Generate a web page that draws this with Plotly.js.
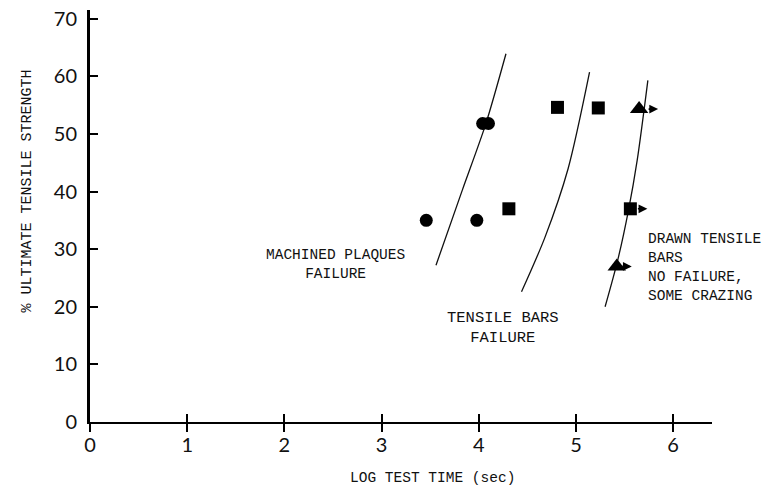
<!DOCTYPE html>
<html>
<head>
<meta charset="utf-8">
<script src="https://cdn.plot.ly/plotly-3.0.1.min.js"></script>
<style>html,body{margin:0;padding:0;background:#fff}#chart{width:765px;height:491px}</style>
</head>
<body>
<div id="chart"></div>
<script>
// ---- data ----
var xTicks = [0, 1, 2, 3, 4, 5, 6];
var yTicks = [0, 10, 20, 30, 40, 50, 60, 70];

// machined plaques (circles)
var plaqueX = [3.46, 3.98, 4.04, 4.10];
var plaqueY = [35.0, 35.0, 51.8, 51.8];
// tensile bars (squares)
var barX = [4.31, 4.81, 5.23, 5.56];
var barY = [37.0, 54.6, 54.5, 37.0];
// drawn tensile bars (triangles)
var drawnX = [5.65, 5.42];
var drawnY = [54.3, 27.0];

// failure curves
var curve1X = [3.56, 3.83, 4.07, 4.28];
var curve1Y = [27.2, 40.2, 51.6, 63.9];
var curve2X = [4.44, 4.68, 4.92, 5.14];
var curve2Y = [22.6, 32.0, 44.0, 60.7];
var curve3X = [5.30, 5.43, 5.54, 5.63, 5.74];
var curve3Y = [20.0, 28.1, 36.7, 45.4, 59.3];

var xTitle = "LOG TEST TIME (sec)";
var yTitle = "% ULTIMATE TENSILE STRENGTH";
var label1 = "MACHINED PLAQUES<br>FAILURE";
var label2 = "TENSILE BARS<br>FAILURE";
var label3 = "DRAWN TENSILE<br>BARS<br>NO FAILURE,<br>SOME CRAZING";

// ---- chart ----
var mono = "Liberation Mono, Courier New, monospace";
var tickFont = {family: "Lato, sans-serif", size: 20, color: "#111"};

var curveLine = {color: "#111", width: 1.3, shape: "spline", smoothing: 0.8};
var traces = [
  {x: curve1X, y: curve1Y, mode: "lines", line: curveLine, hoverinfo: "skip"},
  {x: curve2X, y: curve2Y, mode: "lines", line: curveLine, hoverinfo: "skip"},
  {x: curve3X, y: curve3Y, mode: "lines", line: curveLine, hoverinfo: "skip"},
  {x: plaqueX, y: plaqueY, mode: "markers", marker: {symbol: "circle", size: 13, color: "#000"}},
  {x: barX, y: barY, mode: "markers", marker: {symbol: "square", size: 13, color: "#000"}},
  {x: drawnX, y: drawnY, mode: "markers", marker: {symbol: "triangle-up", size: 16, color: "#000"}},
  {x: [0], y: [0], xaxis: "x2", mode: "markers", marker: {size: 0, opacity: 0}, hoverinfo: "skip"}
];

// run-out arrows (no failure) on the right-hand points
var arrowPts = [
  {x: drawnX[0], y: drawnY[0], s: 19},
  {x: barX[3], y: barY[3], s: 17},
  {x: drawnX[1], y: drawnY[1], s: 15}
];
var annotations = arrowPts.map(function (p) {
  return {x: p.x, y: p.y, xref: "x", yref: "y", text: "", showarrow: true,
          ax: -11, ay: 0, xshift: p.s, arrowhead: 2, arrowsize: 1.1,
          arrowwidth: 1.6, arrowcolor: "#000"};
});
var textFont = {family: mono, size: 14.5, color: "#111"};
annotations.push(
  {x: 2.53, y: 27.3, xref: "x", yref: "y", text: label1, showarrow: false,
   align: "center", xanchor: "center", yanchor: "middle", font: textFont},
  {x: 4.25, y: 16.3, xref: "x", yref: "y", text: label2, showarrow: false,
   align: "center", xanchor: "center", yanchor: "middle", font: {family: mono, size: 15.5, color: "#111"}},
  {x: 5.72, y: 26.9, xref: "x", yref: "y", text: label3, showarrow: false,
   align: "left", xanchor: "left", yanchor: "middle", font: textFont},
  {x: 0.55, y: -0.136, xref: "paper", yref: "paper", text: xTitle, showarrow: false,
   xanchor: "center", yanchor: "middle", font: {family: mono, size: 14.5, color: "#111"}},
  {x: -0.101, y: 0.56, xref: "paper", yref: "paper", text: yTitle, showarrow: false,
   textangle: -90, xanchor: "center", yanchor: "middle", font: {family: mono, size: 15, color: "#111"}}
);

var layout = {
  width: 765, height: 491,
  margin: {l: 90, r: 53, t: 10, b: 69},
  paper_bgcolor: "#fff", plot_bgcolor: "#fff",
  showlegend: false,
  xaxis: {
    range: [0, 6.4], tickmode: "array", tickvals: xTicks,
    ticks: "outside", ticklen: 8, tickwidth: 2, tickcolor: "#000",
    ticklabelstandoff: -4,
    showline: true, linecolor: "#000", linewidth: 2,
    showgrid: false, zeroline: false, tickfont: tickFont
  },
  xaxis2: {
    overlaying: "x", matches: "x", anchor: "y", side: "bottom",
    range: [0, 6.4], tickmode: "array", tickvals: xTicks,
    ticks: "inside", ticklen: 8, tickwidth: 2, tickcolor: "#000",
    showticklabels: false, showline: false, showgrid: false, zeroline: false
  },
  yaxis: {
    range: [0, 71.5], tickmode: "array", tickvals: yTicks,
    ticks: "inside", ticklen: 8, tickwidth: 2, tickcolor: "#000",
    ticklabelstandoff: 6,
    showline: true, linecolor: "#000", linewidth: 3,
    showgrid: false, zeroline: false, tickfont: tickFont
  },
  annotations: annotations
};

Plotly.newPlot("chart", traces, layout, {displayModeBar: false, staticPlot: true});
</script>
</body>
</html>
